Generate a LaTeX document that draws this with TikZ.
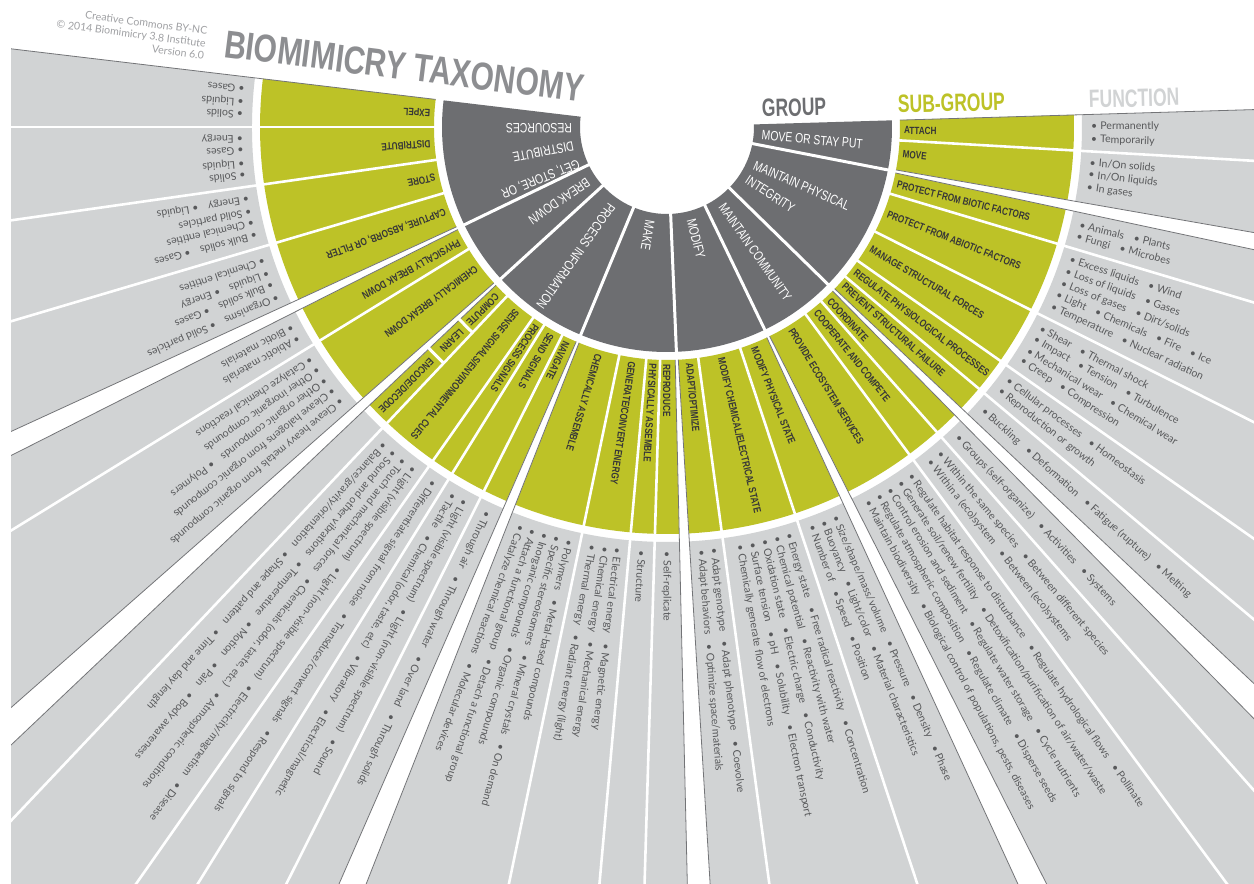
\documentclass[tikz,border=0pt]{standalone}
\usepackage{fontspec}
\setmainfont{Lato}
\newfontfamily\fnf{Lato}
\newfontfamily\cnd[FakeStretch=0.77]{Liberation Sans}
\newfontfamily\cndg[FakeStretch=0.78]{Liberation Sans}
\newfontfamily\ttlf[FakeStretch=0.77]{Liberation Sans}
\newfontfamily\hdrf[FakeStretch=0.70]{Liberation Sans}
\definecolor{sgreen}{RGB}{189,194,39}
\definecolor{dgray}{RGB}{109,110,113}
\definecolor{lgray}{RGB}{209,211,212}
\definecolor{txt}{RGB}{88,89,91}
\definecolor{gtx}{RGB}{55,55,55}
\definecolor{ttl}{RGB}{141,142,145}
\definecolor{cred}{RGB}{160,161,164}
\definecolor{gline}{RGB}{115,116,119}
\newcounter{fln}\newcounter{gln}\newcounter{dln}
\newcommand{\gp}{\hspace{10pt}\textbullet\hspace{3pt}}
\newcommand{\fl}[2]{\stepcounter{fln}\node[ftxt,rotate=#1] (f\arabic{fln}) at (#1:424) {\textbullet\hspace{3pt}#2};}
\newcommand{\gl}[3][237]{\stepcounter{gln}\node[gtxt,rotate=#2] (g\arabic{gln}) at (#2:#1) {#3};}
\newcommand{\dl}[2]{\stepcounter{dln}\node[dtxt,rotate=#1] (d\arabic{dln}) at (#1:95) {#2};}
\newcommand{\annsec}[5]{\fill[#1] (#2:#4) arc[start angle=#2,end angle=#3,radius=#4] -- (#3:#5) arc[start angle=#3,end angle=#2,radius=#5] -- cycle;}
\newcommand{\ggap}[1]{%
  \fill[white] ({#1-0.38}:226) -- ({#1-0.92}:1050) -- ({#1+0.92}:1050) -- ({#1+0.38}:226) -- cycle;
  \draw[gapline] ({#1-0.38}:233) -- ({#1-0.92}:1050);
  \draw[gapline] ({#1+0.38}:233) -- ({#1+0.92}:1050);}
\tikzset{
  ftxt/.style={anchor=west,inner sep=0pt,font=\fnf\fontsize{10.6}{12}\selectfont,text=txt},
  gtxt/.style={anchor=west,inner sep=0pt,font=\cndg\bfseries\fontsize{10.5}{12}\selectfont,text=gtx},
  dtxt/.style={anchor=west,inner sep=0pt,font=\cnd\fontsize{13.5}{15}\selectfont,text=white},
  sepline/.style={white,line width=2.6pt},
  gapline/.style={gline,line width=0.8pt},
  hdr/.style={anchor=base west,inner sep=0pt,rotate=1.5,font=\hdrf\bfseries\fontsize{25}{26}\selectfont}
}
\begin{document}
\begin{tikzpicture}[x=1pt,y=1pt]
\useasboundingbox (0,0) rectangle (1254,-884);
\fill[white] (0,0) rectangle (1254,-884);
\begin{scope}
\clip (11,-884) rectangle (1254,0);
\begin{scope}[shift={(667,-127)}]
 % rings
 \annsec{lgray}{173.2}{361.7}{415}{1050}
 \annsec{sgreen}{173.2}{361.7}{233}{407}
 \annsec{dgray}{173.2}{361.7}{87}{225}
 % thin separators between sub-groups / functions
 \foreach \a in {180.0,188.1,196.5,211.6,226.6,234.95,238.2,243.3,258.2,264.9,268.3,277.7,288.3,306.5,311.5,320.0,324.95,333.3,343.35,356.7}
   {\draw[sepline] (\a:229) -- (\a:1050);}
 % group separators in dark ring
 \foreach \a in {205.75,222.4,247.45,272.4,295.75,315.65,349.0}
   {\draw[white,line width=3pt] (\a:80) -- (\a:229);}
 % group gaps
 \foreach \a in {205.75,222.4,247.45,272.4,295.75,315.65,349.0}
   {\ggap{\a}}
 % compute / learn / encode boxes
 \draw[white,line width=3pt] (222.4:283) arc[start angle=222.4,end angle=226.6,radius=283];
 \draw[white,line width=3pt] (222.4:325) arc[start angle=222.4,end angle=226.6,radius=325];
 % outer edges
 \draw[gapline] (173.2:233) -- (173.2:1050);
 \draw[gapline] (361.7:233) -- (361.7:1050);

 % ---------- group labels ----------
 \dl{180.6}{RESOURCES}
 \dl{191.3}{DISTRIBUTE}
 \dl{202.0}{GET, STORE, OR}
 \dl{214.5}{BREAK DOWN}
 \dl{234.8}{PROCESS INFORMATION}
 \dl{259.9}{MAKE}
 \dl{284.6}{MODIFY}
 \dl{305.2}{MAINTAIN COMMUNITY}
 \dl{327.0}{INTEGRITY}
 \dl{336.5}{MAINTAIN PHYSICAL}
 \dl{355.0}{MOVE OR STAY PUT}

 % ---------- sub-group labels ----------
 \gl{176.6}{EXPEL}
 \gl{184.05}{DISTRIBUTE}
 \gl{192.3}{STORE}
 \gl{200.7}{CAPTURE, ABSORB, OR FILTER}
 \gl{209.1}{PHYSICALLY BREAK DOWN}
 \gl{216.55}{CHEMICALLY BREAK DOWN}
 \gl[239]{224.8}{COMPUTE}
 \gl[289]{224.8}{LEARN}
 \gl[331]{224.8}{ENCODE/DECODE}
 \gl{230.8}{SENSE SIGNALS/ENVIRONMENTAL CUES}
 \gl{236.6}{PROCESS SIGNALS}
 \gl{240.75}{SEND SIGNALS}
 \gl{244.95}{NAVIGATE}
 \gl{253.25}{CHEMICALLY ASSEMBLE}
 \gl{261.55}{GENERATE/CONVERT ENERGY}
 \gl{266.6}{PHYSICALLY ASSEMBLE}
 \gl{269.95}{REPRODUCE}
 \gl{275.45}{ADAPT/OPTIMIZE}
 \gl{283.25}{MODIFY CHEMICAL/ELECTRICAL STATE}
 \gl{291.6}{MODIFY PHYSICAL STATE}
 \gl{301.55}{PROVIDE ECOSYSTEM SERVICES}
 \gl{309.0}{COOPERATE AND COMPETE}
 \gl{313.15}{COORDINATE}
 \gl{318.15}{PREVENT STRUCTURAL FAILURE}
 \gl{322.45}{REGULATE PHYSIOLOGICAL PROCESSES}
 \gl{329.15}{MANAGE STRUCTURAL FORCES}
 \gl{338.5}{PROTECT FROM ABIOTIC FACTORS}
 \gl{346.0}{PROTECT FROM BIOTIC FACTORS}
 \gl{353.5}{MOVE}
 \gl{359.2}{ATTACH}

 % ---------- functions ----------
 \fl{174.9}{Gases}
 \fl{176.6}{Liquids}
 \fl{178.3}{Solids}
 \fl{181.5}{Energy}
 \fl{183.2}{Gases}
 \fl{184.9}{Liquids}
 \fl{186.6}{Solids}
 \fl{189.75}{Energy\gp Liquids}
 \fl{191.45}{Solid particles}
 \fl{193.15}{Chemical entities}
 \fl{194.85}{Bulk solids\gp Gases}
 \fl{198.5}{Chemical entities}
 \fl{200.2}{Liquids\gp Energy}
 \fl{201.9}{Bulk solids\gp Gases}
 \fl{203.6}{Organisms\gp Solid particles}
 \fl{208.25}{Biotic materials}
 \fl{209.95}{Abiotic materials}
 \fl{213.15}{Catalyze chemical reactions}
 \fl{214.85}{Other inorganic compounds}
 \fl{216.55}{Other organic compounds\gp Polymers}
 \fl{218.25}{Cleave halogens from organic compounds}
 \fl{219.95}{Cleave heavy metals from organic compounds}
 \fl{228.25}{Balance/gravity/orientation\gp Shape and pattern\gp Time and day length}
 \fl{229.95}{Sound and other vibrations\gp Temperature\gp Motion\gp Pain\gp Body awareness}
 \fl{231.65}{Touch and mechanical forces\gp Chemicals (odor, taste, etc.)\gp Atmospheric conditions}
 \fl{233.35}{Light (visible spectrum)\gp Light (non-visible spectrum)\gp Electricity/magnetism\gp Disease}
 \fl{236.6}{Differentiate signal from noise\gp Transduce/convert signals\gp Respond to signals}
 \fl{239.8}{Tactile\gp Chemical (odor, taste, etc)\gp Vibratory\gp Electrical/magnetic}
 \fl{241.5}{Light (visible spectrum)\gp Light (non-visible spectrum)\gp Sound}
 \fl{244.95}{Through air\gp Through water\gp Over land\gp Through solids}
 \fl{249.85}{Catalyze chemical reactions\gp Molecular devices}
 \fl{251.55}{Attach a functional group\gp Detach a functional group}
 \fl{253.25}{Inorganic compounds\gp Organic compounds}
 \fl{254.95}{Specific stereoisomers\gp Mineral crystals\gp On demand}
 \fl{256.65}{Polymers\gp Metal-based compounds}
 \fl{259.85}{Thermal energy\gp Radiant energy (light)}
 \fl{261.55}{Chemical energy\gp Mechanical energy}
 \fl{263.25}{Electrical energy\gp Magnetic energy}
 \fl{266.6}{Structure}
 \fl{269.95}{Self-replicate}
 \fl{274.6}{Adapt behaviors\gp Optimize space/materials}
 \fl{276.3}{Adapt genotype\gp Adapt phenotype\gp Coevolve}
 \fl{279.85}{Chemically generate flow of electrons}
 \fl{281.55}{Surface tension\gp pH\gp Solubility\gp Electron transport}
 \fl{283.25}{Oxidation state\gp Electric charge\gp Conductivity}
 \fl{284.95}{Chemical potential\gp Reactivity with water}
 \fl{286.65}{Energy state\gp Free radical reactivity\gp Concentration}
 \fl{289.9}{Number of\gp Speed\gp Position}
 \fl{291.6}{Buoyancy\gp Light/color\gp Material characteristics}
 \fl{293.3}{Size/shape/mass/volume\gp Pressure\gp Density\gp Phase}
 \fl{298.15}{Maintain biodiversity\gp Biological control of populations, pests, diseases}
 \fl{299.85}{Regulate atmospheric composition\gp Regulate climate\gp Disperse seeds}
 \fl{301.55}{Control erosion and sediment\gp Regulate water storage\gp Cycle nutrients}
 \fl{303.25}{Generate soil/renew fertility\gp Detoxification/purification of air/water/waste}
 \fl{304.95}{Regulate habitat response to disturbance\gp Regulate hydrological flows\gp Pollinate}
 \fl{308.15}{Within a (eco)system\gp Between (eco)systems}
 \fl{309.85}{Within the same species\gp Between different species}
 \fl{313.15}{Groups (self-organize)\gp Activities\gp Systems}
 \fl{318.15}{Buckling\gp Deformation\gp Fatigue (rupture)\gp Melting}
 \fl{321.6}{Reproduction or growth}
 \fl{323.3}{Cellular processes\gp Homeostasis}
 \fl{326.6}{Creep\gp Compression}
 \fl{328.3}{Mechanical wear\gp Chemical wear}
 \fl{330.0}{Impact\gp Tension\gp Turbulence}
 \fl{331.7}{Shear\gp Thermal shock}
 \fl{334.95}{Temperature\gp Nuclear radiation}
 \fl{336.65}{Light\gp Chemicals\gp Fire\gp Ice}
 \fl{338.35}{Loss of gases\gp Dirt/solids}
 \fl{340.05}{Loss of liquids\gp Gases}
 \fl{341.75}{Excess liquids\gp Wind}
 \fl{344.95}{Fungi\gp Microbes}
 \fl{346.65}{Animals\gp Plants}
 \fl{351.8}{In gases}
 \fl{353.5}{In/On liquids}
 \fl{355.2}{In/On solids}
 \fl{358.3}{Temporarily}
 \fl{360.0}{Permanently}
\end{scope}
\end{scope}

% ---------- headings ----------
\node[anchor=base west,inner sep=0pt,rotate=-7.2,text=ttl,font=\ttlf\bfseries\fontsize{39}{40}\selectfont] (title) at (223,-57) {BIOMIMICRY TAXONOMY};
\node[anchor=north east,inner sep=0pt,rotate=-7.5,align=right,text=cred,font=\fnf\fontsize{10.6}{12.5}\selectfont] (credit) at (208,-27) {Creative Commons BY-NC\\\textcopyright{} 2014 Biomimicry 3.8 Institute\\Version 6.0};
\node[hdr,text=dgray] (hgroup) at (762,-117) {GROUP};
\node[hdr,text=sgreen] (hsub) at (898,-113) {SUB-GROUP};
\node[hdr,text=lgray] (hfun) at (1089,-108) {FUNCTION};
\end{tikzpicture}
\end{document}
